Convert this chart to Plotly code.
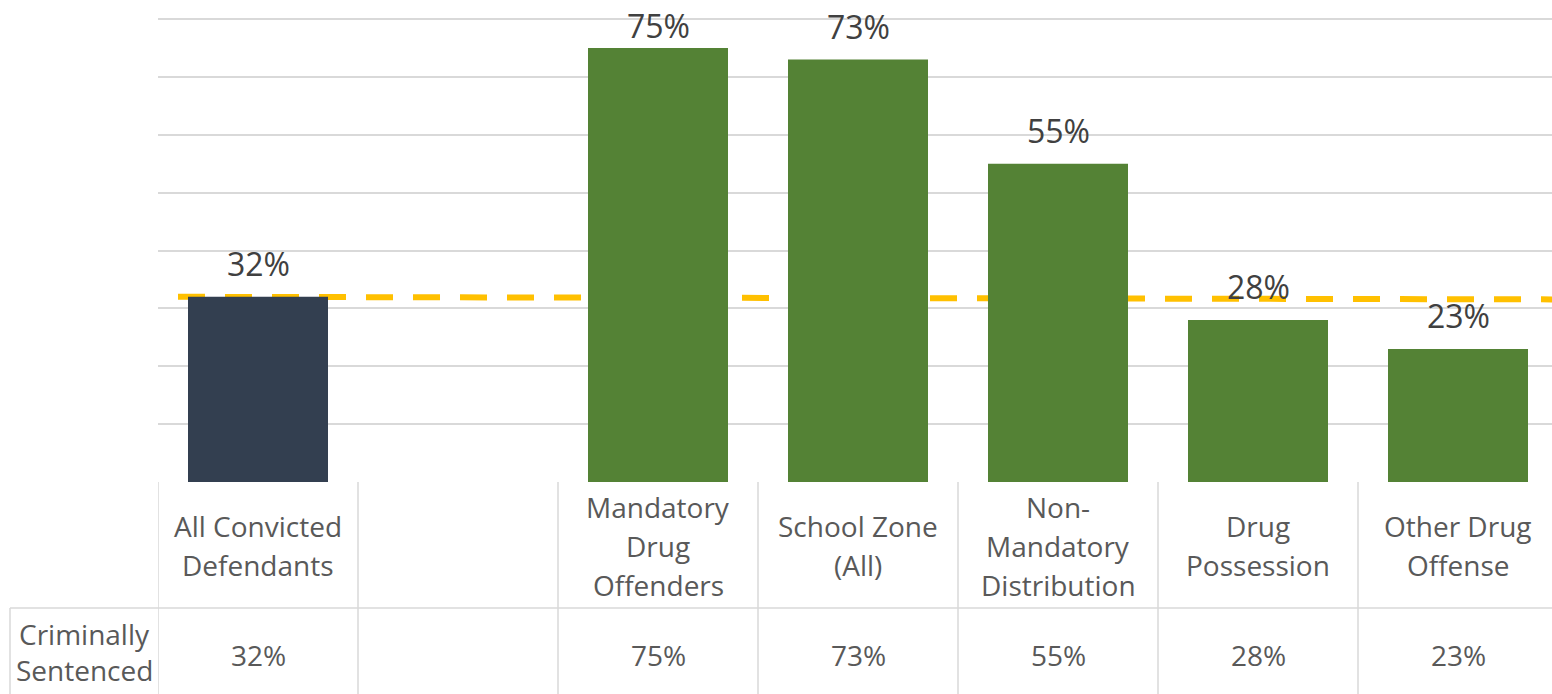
import plotly.graph_objects as go

categories = ["All Convicted<br>Defendants", "", "Mandatory<br>Drug<br>Offenders",
              "School Zone<br>(All)", "Non-<br>Mandatory<br>Distribution",
              "Drug<br>Possession", "Other Drug<br>Offense"]
values = [32, None, 75, 73, 55, 28, 23]
bar_colors = ["#333F50", "#333F50", "#548235", "#548235", "#548235", "#548235", "#548235"]
row_label = "Criminally<br>Sentenced"
benchmark_x = [-0.4, 6.5]
benchmark_y = [32, 31.55]

FONT = "Open Sans"
W, H = 1552, 694
ML, MR, MT, MB = 158, 0, 12, 212
plot_h = H - MT - MB
plot_w = W - ML - MR
px_per_unit = 463 / 80.0
yr = [0, plot_h / px_per_unit]
xr = [-0.5, -0.5 + plot_w / 200]
xs = list(range(len(categories)))

def py(pix):
    # pixel row -> paper y
    return (H - MB - pix) / plot_h

fig = go.Figure()

# benchmark line on base axes (drawn beneath bars on overlay axes)
fig.add_trace(go.Scatter(x=benchmark_x, y=benchmark_y, mode="lines",
                         line=dict(color="#FFC000", width=6, dash="27px,20px"),
                         hoverinfo="skip", showlegend=False, xaxis="x", yaxis="y"))

fig.add_trace(go.Bar(x=xs, y=values, marker=dict(color=bar_colors, line=dict(width=0)),
                     width=0.7, hoverinfo="x+y",
                     showlegend=False, xaxis="x2", yaxis="y2"))

axis_common = dict(showgrid=False, zeroline=False, showticklabels=False, showline=False)
fig.update_layout(
    width=W, height=H,
    margin=dict(l=ML, r=MR, t=MT, b=MB),
    paper_bgcolor="white", plot_bgcolor="white",
    xaxis=dict(range=xr, **axis_common),
    yaxis=dict(range=yr, dtick=10, tick0=0, showgrid=True, gridcolor="#D9D9D9", gridwidth=1.5,
               zeroline=False, showticklabels=False, showline=False),
    xaxis2=dict(range=xr, overlaying="x", **axis_common),
    yaxis2=dict(range=yr, overlaying="y", **axis_common),
    bargap=0.3,
)

shapes = []
line_style = dict(color="#D9D9D9", width=1.5)
for i in range(len(categories)):
    shapes.append(dict(type="line", xref="x", yref="paper", x0=i - 0.5, x1=i - 0.5,
                       y0=0, y1=py(H), line=line_style))
x_left = (10 - ML) / plot_w
shapes.append(dict(type="line", xref="paper", yref="paper", x0=x_left, x1=x_left,
                   y0=py(608), y1=py(H), line=line_style))
shapes.append(dict(type="line", xref="paper", yref="paper", x0=x_left, x1=1,
                   y0=py(608), y1=py(608), line=line_style))
fig.update_layout(shapes=shapes)

annotations = []
# data labels above bars
lfont = dict(family=FONT, size=32, color="#404040")
for i, v in enumerate(values):
    if v is None:
        continue
    bar_top_px = (H - MB) - v * px_per_unit
    shift = min(33, bar_top_px - 25)
    annotations.append(dict(x=i, y=v, xref="x2", yref="y2", text=f"{v}%", showarrow=False,
                            font=lfont, xanchor="center", yanchor="middle", yshift=shift))

tfont = dict(family=FONT, size=28, color="#595959")
for i, cat in enumerate(categories):
    if not cat:
        continue
    parts = cat.split("<br>")
    n = len(parts)
    for k, part in enumerate(parts):
        ypix = 545.5 + (k - (n - 1) / 2) * 39
        annotations.append(dict(x=i, y=py(ypix), xref="x", yref="paper", text=part,
                                showarrow=False, font=tfont, xanchor="center", yanchor="middle"))
    v = values[i]
    if v is not None:
        annotations.append(dict(x=i, y=py(655), xref="x", yref="paper", text=f"{v}%",
                                showarrow=False, font=tfont, xanchor="center", yanchor="middle"))
rparts = row_label.split("<br>")
for k, part in enumerate(rparts):
    ypix = 652 + (k - (len(rparts) - 1) / 2) * 36
    annotations.append(dict(x=(84 - ML) / plot_w, y=py(ypix), xref="paper", yref="paper",
                            text=part, showarrow=False, font=tfont,
                            xanchor="center", yanchor="middle"))
fig.update_layout(annotations=annotations)

fig.write_html("out.html", config={"displayModeBar": False},
               post_script="document.body.style.margin='0';document.body.style.overflow='hidden';")
